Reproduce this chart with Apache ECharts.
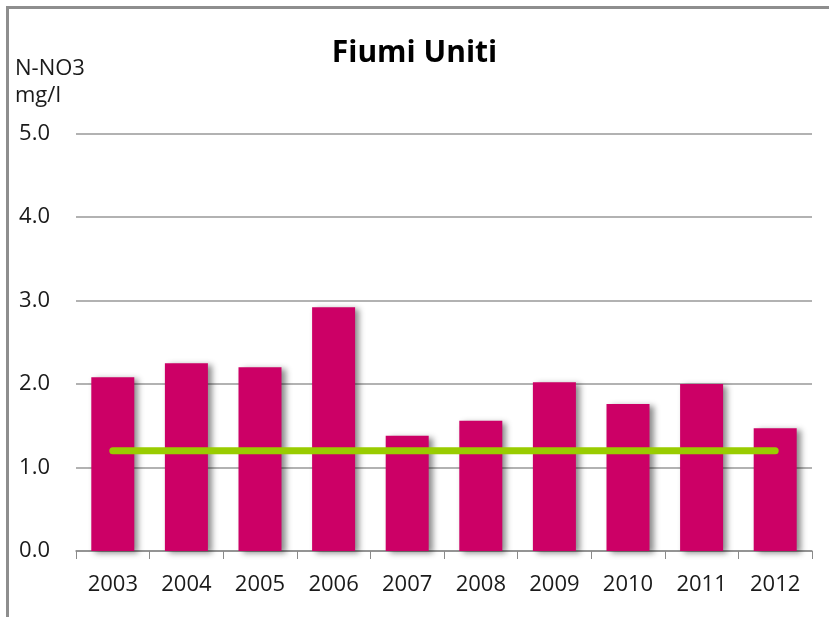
<!DOCTYPE html>
<html>
<head>
<meta charset="utf-8">
<script src="https://cdn.jsdelivr.net/npm/echarts@6/dist/echarts.min.js"></script>
<style>
    html, body { margin: 0; padding: 0; background: #fff; }
    #chart { width: 829px; height: 617px; }
</style>
</head>
<body>
<div id="chart"></div>
<script>
    // dati
    var anni = ['2003', '2004', '2005', '2006', '2007', '2008', '2009', '2010', '2011', '2012'];
    var nitrati = [2.08, 2.25, 2.20, 2.92, 1.38, 1.56, 2.02, 1.76, 2.00, 1.47];
    var riferimento = [1.2, 1.2, 1.2, 1.2, 1.2, 1.2, 1.2, 1.2, 1.2, 1.2];
    var ticksY = [0, 5, 1];  // min, max, passo

    var font = '"Open Sans", sans-serif';
    var chart = echarts.init(document.getElementById('chart'));
    chart.setOption({
        backgroundColor: '#fff',
        animation: false,
        title: {
            text: 'Fiumi Uniti',
            left: 'center',
            top: 33,
            textStyle: { fontFamily: font, fontSize: 30, fontWeight: 'bold', color: '#000' }
        },
        graphic: [
            {
                type: 'rect',
                shape: { x: 7.5, y: 7.5, width: 900, height: 700 },
                style: { fill: 'none', stroke: '#8e8e8e', lineWidth: 3 },
                silent: true
            },
            {
                type: 'text',
                left: 15,
                top: 55,
                style: {
                    text: 'N-NO3\nmg/l',
                    font: '22px "Open Sans", sans-serif',
                    lineHeight: 27,
                    fill: '#1a1a1a'
                }
            }
        ],
        grid: { left: 76, right: 17, top: 133.5, bottom: 66 },
        xAxis: {
            type: 'category',
            data: anni,
            axisLine: { lineStyle: { color: '#8a8a8a', width: 1.5 } },
            axisTick: { show: true, length: 8, lineStyle: { color: '#8a8a8a' } },
            axisLabel: { fontFamily: font, fontSize: 22, color: '#1a1a1a', margin: 23 }
        },
        yAxis: {
            type: 'value',
            min: ticksY[0],
            max: ticksY[1],
            interval: ticksY[2],
            axisLine: { show: false },
            axisTick: { show: false },
            splitLine: { lineStyle: { color: '#999', width: 1.5 } },
            axisLabel: {
                fontFamily: font, fontSize: 22, color: '#1a1a1a', margin: 26,
                formatter: function (v) { return v.toFixed(1); }
            }
        },
        series: [
            {
                type: 'bar',
                data: nitrati,
                barWidth: 43,
                itemStyle: {
                    color: '#cc0066',
                    shadowColor: 'rgba(0,0,0,0.45)',
                    shadowBlur: 6,
                    shadowOffsetX: 4,
                    shadowOffsetY: 2
                }
            },
            {
                type: 'line',
                data: riferimento,
                symbol: 'none',
                lineStyle: { color: '#99cc00', width: 7, cap: 'round' },
                z: 5
            }
        ]
    });
</script>
</body>
</html>
